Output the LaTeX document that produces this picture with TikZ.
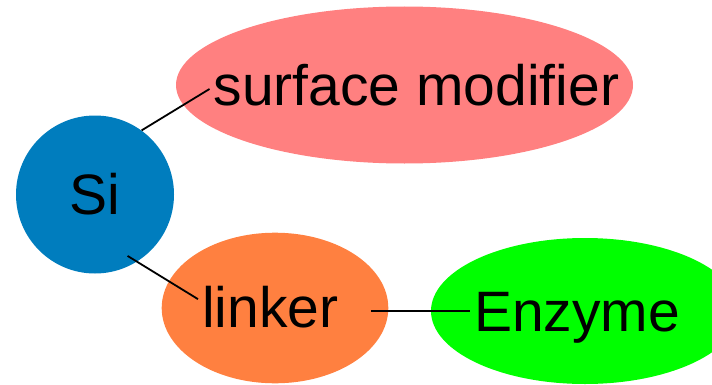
\documentclass[tikz,border=0pt]{standalone}
\usepackage{fontspec}
\setmainfont{Liberation Sans}
\usepackage{xcolor}
\usepackage{tikz}
\usetikzlibrary{shapes}
\definecolor{siblue}{RGB}{0,125,190}
\definecolor{modpink}{RGB}{255,128,128}
\definecolor{linkorange}{RGB}{255,128,64}
\definecolor{enzgreen}{RGB}{0,255,0}
\tikzstyle{word} = [inner sep=4pt, text height=32pt, text depth=0pt,
anchor=base west, font=\fontsize{57}{60}\selectfont]
\tikzstyle{ball} = [circle, fill=siblue, minimum size=158pt, inner sep=0pt,
font=\fontsize{57}{60}\selectfont]
\tikzstyle{line} = [draw, line width=1.8pt]

\begin{document}
\begin{tikzpicture}[x=1pt, y=1pt]
	\clip (0,0) rectangle (712,384);
	
	% blobs behind the words
	\fill [modpink] (404.5,299) ellipse [x radius=228.5, y radius=78.5];
	\fill [linkorange] (275,76) ellipse [x radius=113.3, y radius=75.3];
	\fill [enzgreen] (585,73) ellipse [x radius=154, y radius=73];
	
	
	\node [ball] (si) at (95,189.5) {Si};
	\node [word] (surface) at (209.5,279) {surface modifier};
	\node [word, text width=164.7pt, align=left] (linker) at (198,56.7) {linker};
	\node [word] (enzyme) at (470,52.3) {Enzyme};
	
	
	\path [line] (si.54)--(surface.west);
	\path [line, shorten <=-11pt] (si.-58)--(linker.172);
	\path [line] (linker.east)--(linker.east -| enzyme.west);
\end{tikzpicture}
\end{document}
